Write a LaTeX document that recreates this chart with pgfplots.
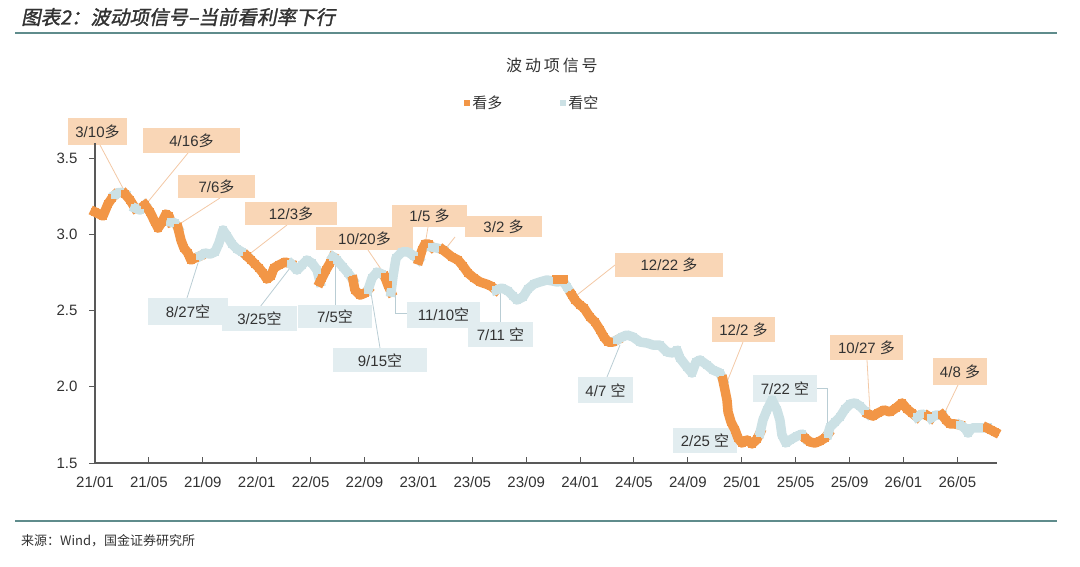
\documentclass[border=0pt]{standalone}
\usepackage{fontspec}
\setmainfont{Liberation Sans}
\newfontfamily\cjk{Noto Sans CJK SC}
\newfontfamily\cjkwide{Noto Sans CJK SC}[LetterSpace=18]
\newfontfamily\titlefont{Noto Sans CJK SC}[FakeSlant=0.2,FakeBold=1.5]
\usepackage{pgfplots}
\pgfplotsset{compat=1.18}
\definecolor{cO}{RGB}{242,150,70}
\definecolor{cB}{RGB}{204,225,229}
\definecolor{boxO}{RGB}{249,214,182}
\definecolor{boxB}{RGB}{226,237,240}
\definecolor{leadO}{RGB}{243,200,165}
\definecolor{leadB}{RGB}{185,205,212}
\definecolor{rule}{RGB}{95,140,140}
\definecolor{axisgray}{RGB}{89,89,89}
\definecolor{labgray}{RGB}{50,50,50}
\newcommand\boxO[5]{\fill[boxO] (#1,#2) rectangle (#3,#4); \node[lab] at ({(#1+#3)/2},{(#2+#4)/2}) {#5};}
\newcommand\boxB[5]{\fill[boxB] (#1,#2) rectangle (#3,#4); \node[lab] at ({(#1+#3)/2},{(#2+#4)/2}) {#5};}
\pgfplotsset{
  duo/.style={draw=cO, line width=9.5pt, line join=round, line cap=rect,
    mark=square*, mark size=3.6pt, mark options={draw=none, fill=cO, line width=0pt},
    legend image code/.code={\path[fill=cO, draw=none] (0pt,-3pt) rectangle (6pt,3pt);}},
  kong/.style={draw=cB, line width=9.5pt, line join=round, line cap=rect,
    mark=square*, mark size=3.6pt, mark options={draw=none, fill=cB, line width=0pt},
    legend image code/.code={\path[fill=cB, draw=none] (0pt,-3pt) rectangle (6pt,3pt);}},
}
\begin{document}
\begin{tikzpicture}
\useasboundingbox (0,0) rectangle (1080pt,566pt);
\begin{scope}[x=1pt,y=-1pt,yshift=566pt,
  lab/.style={font=\fontsize{15}{15}\selectfont, text=labgray, inner sep=0pt}]
  \draw[rule, line width=1.3pt] (15,33) -- (1057,33);
  \draw[rule, line width=1.3pt] (15,521) -- (1057,521);
  \node[anchor=west, inner sep=0pt, text=labgray] at (21,17) {\titlefont\fontsize{19.5}{20}\selectfont 图表2：波动项信号–当前看利率下行};
  \node[inner sep=0pt, text=labgray] at (552,65) {\cjkwide\fontsize{16}{16}\selectfont 波动项信号};
  \node[anchor=west, inner sep=0pt, text=labgray] at (21,541) {\cjk\fontsize{13}{13}\selectfont 来源：Wind，国金证券研究所};
  % leaders
  \begin{scope}[leadO, line width=0.8pt]
    \draw (100,145) -- (125,192);
    \draw (188,153) -- (147,203);
    \draw (220,198) -- (178,225);
    \draw (287,225) -- (247,256);
    \draw (368,250) -- (385,275);
    \draw (428,227) -- (425,245);
    \draw (455,237) -- (443,252);
    \draw (615,265) -- (577,295);
    \draw (743,342) -- (725,387);
    \draw (867,360) -- (870,412);
    \draw (958,385) -- (945,412);
  \end{scope}
  \begin{scope}[leadB, line width=0.8pt]
    \draw (187,298) -- (198,263);
    \draw (260,307) -- (290,268);
    \draw (335,305) -- (335,262);
    \draw (380,348) -- (370,287);
    \draw (407,313) -- (395,313) -- (395,277);
    \draw (500,322) -- (500,290);
    \draw (607,377) -- (620,345);
    \draw (817,388) -- (827,388) -- (827,432);
  \end{scope}
  % boxes
  \boxO{68}{118}{127}{145}{3/10{\cjk 多}}
  \boxO{143}{128}{240}{153}{4/16{\cjk 多}}
  \boxO{178}{175}{255}{198}{7/6{\cjk 多}}
  \boxO{245}{202}{337}{225}{12/3{\cjk 多}}
  \boxO{316}{227}{413}{250}{10/20{\cjk 多}}
  \boxO{392}{205}{467}{227}{1/5 {\cjk 多}}
  \boxO{465}{216}{542}{237}{3/2 {\cjk 多}}
  \boxO{615}{253}{723}{277}{12/22 {\cjk 多}}
  \boxO{712}{317}{775}{342}{12/2 {\cjk 多}}
  \boxO{830}{335}{903}{360}{10/27 {\cjk 多}}
  \boxO{933}{358}{987}{385}{4/8 {\cjk 多}}
  \boxB{148}{298}{228}{325}{8/27{\cjk 空}}
  \boxB{222}{306}{297}{331}{3/25{\cjk 空}}
  \boxB{298}{305}{372}{328}{7/5{\cjk 空}}
  \boxB{333}{348}{427}{372}{9/15{\cjk 空}}
  \boxB{407}{302}{480}{328}{11/10{\cjk 空}}
  \boxB{468}{322}{533}{347}{7/11 {\cjk 空}}
  \boxB{578}{377}{633}{403}{4/7 {\cjk 空}}
  \boxB{673}{428}{737}{453}{2/25 {\cjk 空}}
  \boxB{753}{375}{817}{402}{7/22 {\cjk 空}}
\end{scope}
\begin{axis}[
  at={(95pt,103pt)}, anchor=south west,
  scale only axis, width=902pt, height=320pt,
  xmin=0, xmax=66.94, ymin=1.5, ymax=3.6,
  axis x line*=bottom, axis y line*=left,
  x axis line style={draw=axisgray, line width=2pt, -},
  y axis line style={draw=axisgray, line width=1.2pt, -},
  xtick={0,4,...,64},
  xticklabels={21/01,21/05,21/09,22/01,22/05,22/09,23/01,23/05,23/09,24/01,24/05,24/09,25/01,25/05,25/09,26/01,26/05},
  ytick={1.5,2,2.5,3,3.5},
  /pgf/number format/fixed,
  /pgf/number format/fixed zerofill,
  /pgf/number format/precision=1,
  /pgf/number format/assume math mode=true,
  tick label style={font=\fontsize{15}{15}\selectfont, text=labgray},
  xticklabel style={yshift=-10pt},
  yticklabel style={xshift=-14pt},
  tick align=inside,
  major tick length=6pt,
  xtick style={draw=axisgray, line width=1pt},
  ytick style={draw=axisgray, line width=1pt, xshift=-6pt},
  legend columns=2,
  legend style={at={(0.485,1.125)}, anchor=center, draw=none, fill=none,
    font=\cjk\fontsize{15}{15}\selectfont, text=labgray,
    /tikz/every even column/.append style={column sep=56pt}},
  clip=false,
]
\addplot[duo] coordinates {(0,3.147)(0.30,3.134)(0.59,3.121)(0.96,3.199)(1.26,3.239)(1.48,3.259)};
\addlegendentry{看多}
\addplot[kong] coordinates {(1.48,3.259)(1.86,3.278)(2.23,3.265)};
\addlegendentry{看空}
\addplot[duo, forget plot] coordinates {(2.23,3.265)(2.60,3.226)(2.97,3.173)};
\addplot[kong, forget plot] coordinates {(2.97,3.173)(3.34,3.160)(3.71,3.193)};
\addplot[duo, forget plot] coordinates {(3.71,3.193)(4.08,3.147)(4.45,3.081)(4.68,3.042)(4.97,3.081)(5.27,3.134)(5.49,3.121)(5.64,3.081)};
\addplot[kong, forget plot] coordinates {(5.64,3.081)(5.94,3.075)(6.16,3.042)};
\addplot[duo, forget plot] coordinates {(6.16,3.042)(6.38,2.963)(6.60,2.911)(6.90,2.878)(7.12,2.832)(7.42,2.845)(7.79,2.858)};
\addplot[kong, forget plot] coordinates {(7.79,2.858)(8.16,2.878)(8.53,2.871)(8.91,2.885)(9.20,2.944)(9.50,3.029)(9.80,2.990)(10.17,2.937)(10.54,2.904)(10.91,2.885)(11.28,2.858)};
\addplot[duo, forget plot] coordinates {(11.28,2.858)(11.58,2.832)(11.87,2.806)(12.17,2.780)(12.47,2.747)(12.76,2.707)(13.06,2.727)(13.28,2.780)(13.65,2.799)(14.10,2.819)(14.55,2.806)};
\addplot[kong, forget plot] coordinates {(14.55,2.806)(14.99,2.766)(15.36,2.799)(15.73,2.832)(16.10,2.812)(16.48,2.766)(16.70,2.688)};
\addplot[duo, forget plot] coordinates {(16.70,2.688)(16.85,2.714)(17.14,2.766)(17.44,2.812)(17.66,2.852)};
\addplot[kong, forget plot] coordinates {(17.66,2.852)(17.96,2.832)(18.40,2.786)(18.78,2.747)(19.15,2.701)};
\addplot[duo, forget plot] coordinates {(19.15,2.701)(19.29,2.635)(19.67,2.602)(20.04,2.615)(20.26,2.635)};
\addplot[kong, forget plot] coordinates {(20.26,2.635)(20.56,2.714)(20.93,2.753)(21.30,2.740)(21.52,2.720)};
\addplot[duo, forget plot] coordinates {(21.52,2.720)(21.74,2.668)(21.97,2.622)};
\addplot[kong, forget plot] coordinates {(21.97,2.622)(22.12,2.727)(22.34,2.845)(22.78,2.885)(23.23,2.885)(23.67,2.858)(24.04,2.832)};
\addplot[duo, forget plot] coordinates {(24.04,2.832)(24.27,2.898)(24.49,2.937)(24.79,2.937)(25.01,2.917)};
\addplot[kong, forget plot] coordinates {(25.01,2.917)(25.38,2.911)(25.83,2.898)};
\addplot[duo, forget plot] coordinates {(25.83,2.898)(26.49,2.852)(26.94,2.832)(27.31,2.793)(27.68,2.747)(28.13,2.714)(28.57,2.688)(29.02,2.675)(29.39,2.661)(29.76,2.635)};
\addplot[kong, forget plot] coordinates {(29.76,2.635)(30.20,2.648)(30.65,2.629)(31.02,2.596)(31.32,2.570)(31.76,2.589)(32.13,2.642)(32.58,2.675)(33.02,2.688)(33.54,2.701)(33.99,2.694)(34.29,2.688)(34.73,2.694)(35.03,2.655)(35.40,2.602)};
\addplot[duo, forget plot] coordinates {(34.29,2.701)(34.73,2.701)};
\addplot[duo, forget plot] coordinates {(35.40,2.602)(35.62,2.570)(35.99,2.537)(36.29,2.517)(36.73,2.458)(37.11,2.425)(37.48,2.373)(37.77,2.327)(38.07,2.294)(38.44,2.294)(38.74,2.307)};
\addplot[kong, forget plot] coordinates {(38.74,2.307)(39.11,2.327)(39.48,2.340)(39.93,2.327)(40.45,2.294)(40.97,2.287)(41.41,2.274)(41.93,2.274)(42.45,2.228)(42.89,2.222)(43.19,2.241)(43.41,2.189)(43.93,2.130)(44.30,2.091)(44.60,2.163)(44.90,2.176)(45.42,2.143)(45.86,2.110)(46.38,2.091)(46.60,2.045)};
\addplot[duo, forget plot] coordinates {(46.60,2.045)(46.75,1.979)(46.90,1.913)(46.98,1.835)(47.20,1.769)(47.50,1.717)(47.72,1.664)(48.01,1.631)(48.39,1.651)(48.76,1.625)(49.13,1.657)(49.35,1.697)};
\addplot[kong, forget plot] coordinates {(49.35,1.697)(49.57,1.782)(49.87,1.848)(50.24,1.913)(50.61,1.848)(50.83,1.782)(50.98,1.684)(51.28,1.631)(51.58,1.651)(52.10,1.677)(52.47,1.690)(52.69,1.664)};
\addplot[duo, forget plot] coordinates {(52.69,1.664)(53.06,1.638)(53.43,1.631)(53.80,1.644)(54.17,1.664)(54.40,1.690)};
\addplot[kong, forget plot] coordinates {(54.40,1.690)(54.55,1.736)(54.92,1.769)(55.29,1.802)(55.66,1.854)(56.03,1.887)(56.40,1.894)(56.77,1.874)(57.14,1.841)(57.37,1.822)};
\addplot[duo, forget plot] coordinates {(57.37,1.822)(57.74,1.808)(58.11,1.828)(58.55,1.848)(59.00,1.835)(59.44,1.861)(59.89,1.894)(60.26,1.854)(60.63,1.828)(61.00,1.802)};
\addplot[kong, forget plot] coordinates {(61.00,1.802)(61.37,1.822)(61.82,1.808)};
\addplot[duo, forget plot] coordinates {(61.82,1.808)(62.04,1.795)};
\addplot[kong, forget plot] coordinates {(62.04,1.795)(62.41,1.815)(62.86,1.815)};
\addplot[duo, forget plot] coordinates {(62.86,1.815)(63.15,1.782)(63.45,1.756)(63.82,1.756)(64.19,1.749)};
\addplot[kong, forget plot] coordinates {(64.19,1.749)(64.56,1.730)(64.79,1.697)(65.08,1.730)(65.53,1.730)(65.97,1.730)(66.20,1.730)};
\addplot[duo, forget plot] coordinates {(66.20,1.730)(66.49,1.717)(66.79,1.703)};
\end{axis}
\end{tikzpicture}
\end{document}
